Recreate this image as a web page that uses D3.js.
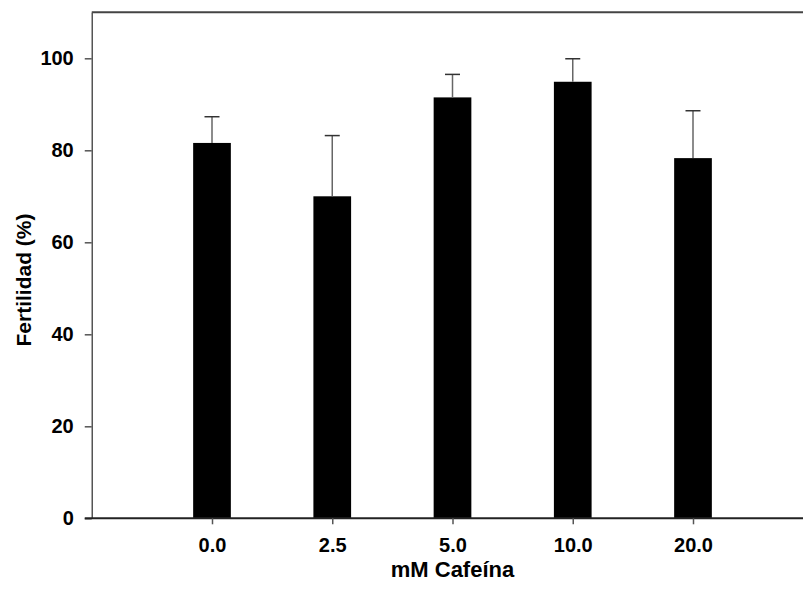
<!DOCTYPE html>
<html>
<head>
<meta charset="utf-8">
<script src="https://cdn.jsdelivr.net/npm/d3@7"></script>
<style>
  body { margin: 0; background: #fff; }
  text { font-family: "Liberation Sans", Arial, sans-serif; font-weight: bold; }
</style>
</head>
<body>
<svg id="chart" width="803" height="594"></svg>
<script>
// data
const doses = ['0.0', '2.5', '5.0', '10.0', '20.0']
const fertility = [81.6, 70.0, 91.5, 94.9, 78.3]
const errUpper = [87.3, 83.2, 96.5, 99.9, 88.6]
const yTicks = [0, 20, 40, 60, 80, 100]

const svg = d3.select('#chart')

// category index 1..5 on a 0..6 linear scale (plot runs past the right edge)
const x = d3.scaleLinear().domain([0, 6]).range([91.75, 813.25])
const y = d3.scaleLinear().domain([0, 110]).range([518.3, 12.3])
const barW = 37.7
const capW = 15

// top frame line
svg.append('line')
    .attr('x1', x(0)).attr('x2', x(6))
    .attr('y1', y(110)).attr('y2', y(110))
    .attr('stroke', '#444').attr('stroke-width', 2)

// bars
svg.selectAll('rect.bar')
    .data(fertility)
    .join('rect')
    .attr('class', 'bar')
    .attr('x', (d, i) => x(i + 1) - barW / 2)
    .attr('width', barW)
    .attr('y', d => y(d))
    .attr('height', d => y(0) - y(d))
    .attr('fill', '#000')

// error bars (upper only)
const eb = svg.selectAll('g.err')
    .data(doses.map((d, i) => ({i: i, v: fertility[i], e: errUpper[i]})))
    .join('g')
    .attr('class', 'err')
eb.append('line')
    .attr('x1', d => x(d.i + 1)).attr('x2', d => x(d.i + 1))
    .attr('y1', d => y(d.v)).attr('y2', d => y(d.e))
    .attr('stroke', '#666').attr('stroke-width', 1.5)
eb.append('line')
    .attr('x1', d => x(d.i + 1) - capW / 2).attr('x2', d => x(d.i + 1) + capW / 2)
    .attr('y1', d => y(d.e)).attr('y2', d => y(d.e))
    .attr('stroke', '#333').attr('stroke-width', 1.5)

// y axis
const yAxis = svg.append('g')
    .attr('transform', `translate(${x(0)},0)`)
    .call(d3.axisLeft(y).tickValues(yTicks).tickSize(7).tickSizeOuter(0).tickPadding(11))
yAxis.select('.domain').attr('stroke', '#555').attr('stroke-width', 1.5)
yAxis.selectAll('.tick line').attr('stroke', '#555').attr('stroke-width', 1.5)
yAxis.selectAll('.tick text').attr('font-size', 20).attr('fill', '#000')
    .attr('font-family', '"Liberation Sans", Arial, sans-serif')

// x axis
const xAxis = svg.append('g')
    .attr('transform', `translate(0,${y(0)})`)
    .call(d3.axisBottom(x).tickValues([1, 2, 3, 4, 5]).tickFormat(d => doses[d - 1])
        .tickSize(6).tickSizeOuter(0).tickPadding(14))
xAxis.select('.domain').attr('stroke', '#222').attr('stroke-width', 2)
    .attr('d', `M${x(0) - 7},0H${x(6)}`)
xAxis.selectAll('.tick line').attr('stroke', '#555').attr('stroke-width', 1.5)
xAxis.selectAll('.tick text').attr('font-size', 20).attr('fill', '#000')
    .attr('font-family', '"Liberation Sans", Arial, sans-serif')

// axis titles
svg.append('text')
    .attr('x', (x(0) + x(6)) / 2).attr('y', 577)
    .attr('text-anchor', 'middle')
    .attr('font-size', 22)
    .text('mM Cafeína')

svg.append('text')
    .attr('transform', `translate(31,${280}) rotate(-90)`)
    .attr('text-anchor', 'middle')
    .attr('font-size', 21)
    .text('Fertilidad (%)')
</script>
</body>
</html>
